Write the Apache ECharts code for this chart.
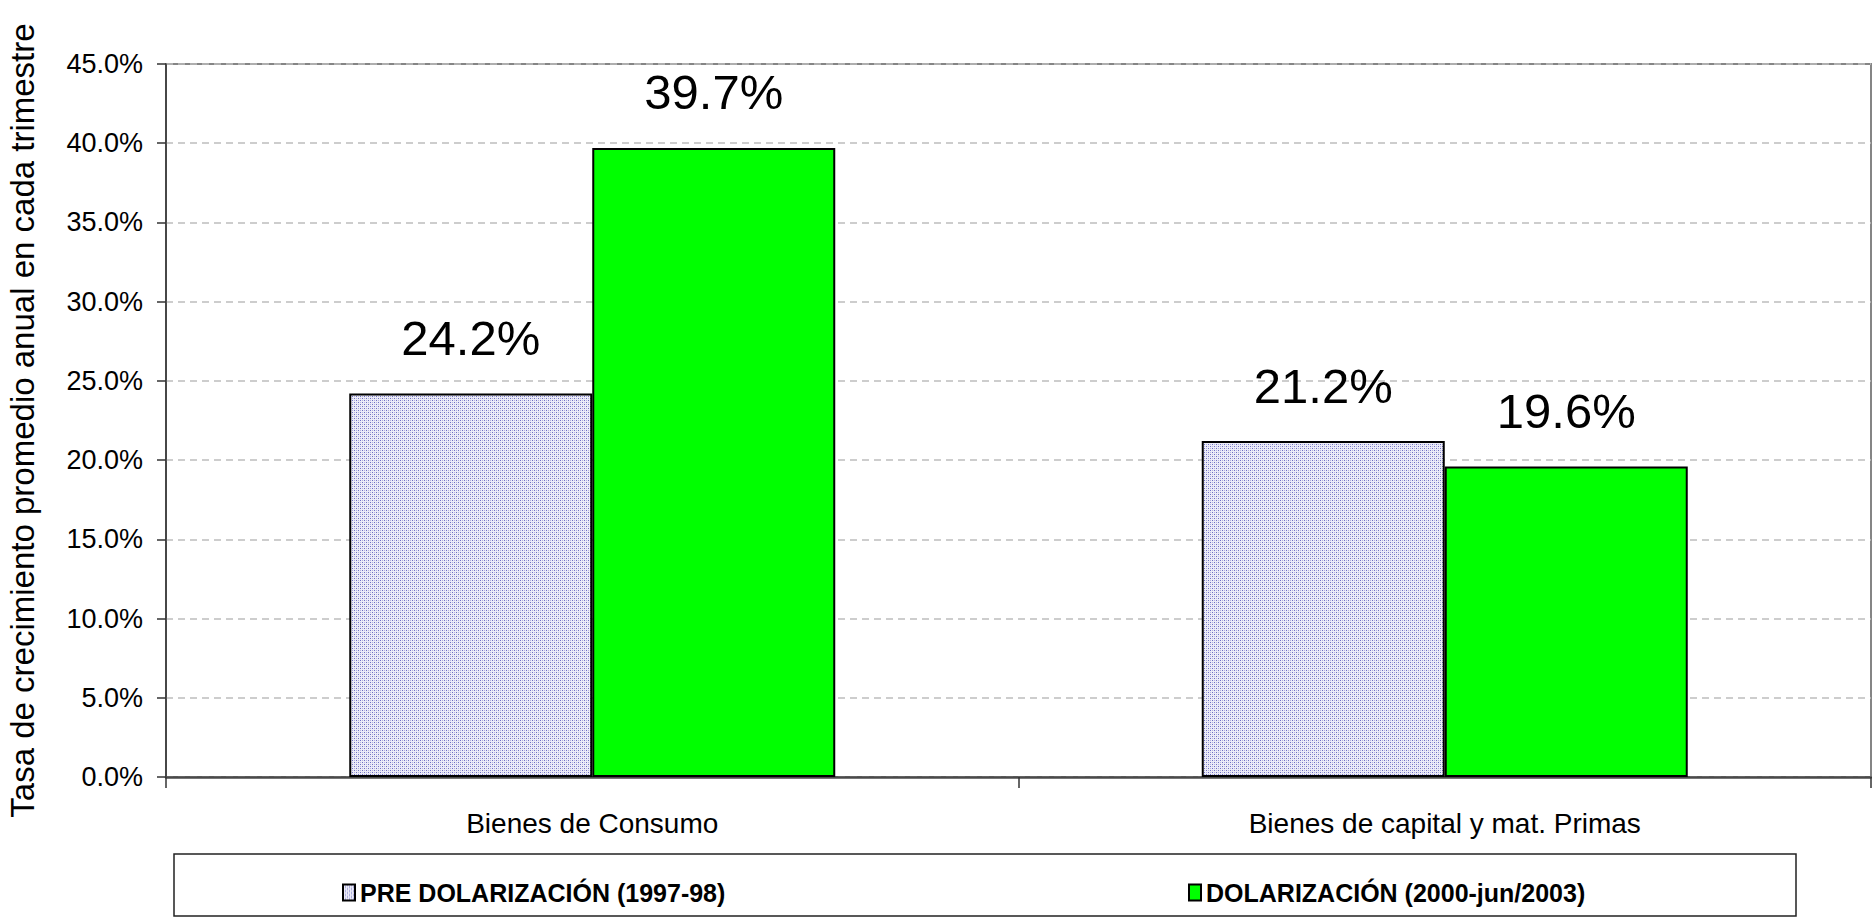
<!DOCTYPE html>
<html>
<head>
<meta charset="utf-8">
<script src="https://cdn.jsdelivr.net/npm/echarts@6/dist/echarts.min.js"></script>
<style>
html,body{margin:0;padding:0;background:#fff;}
#chart{width:1872px;height:917px;}
</style>
</head>
<body>
<div id="chart"></div>
<script>
// ---- data ----
var categories = ['Bienes de Consumo', 'Bienes de capital y mat. Primas'];
var seriesNames = ['PRE DOLARIZACIÓN (1997-98)', 'DOLARIZACIÓN (2000-jun/2003)'];
var preDolarizacion = [0.242, 0.212];
var dolarizacion = [0.397, 0.196];
var yAxisTitle = 'Tasa de crecimiento promedio anual en cada trimestre';

// ---- dotted pattern for first series ----
function makePattern() {
  var c = document.createElement('canvas');
  c.width = 4; c.height = 4;
  var ctx = c.getContext('2d');
  ctx.fillStyle = '#ececf8';
  ctx.fillRect(0, 0, 4, 4);
  ctx.fillStyle = '#6f6fc4';
  ctx.fillRect(0, 0, 1, 1);
  ctx.fillRect(2, 2, 1, 1);
  ctx.fillStyle = '#b4b4dc';
  ctx.fillRect(2, 0, 1, 1);
  ctx.fillRect(0, 2, 1, 1);
  return c.toDataURL();
}
var dotted = { image: makePattern(), repeat: 'repeat' };

var font = "'Liberation Sans', Arial, sans-serif";

function pct(v) { return (v * 100).toFixed(1) + '%'; }

var legendText = { fontFamily: font, fontWeight: 'bold', fontSize: 25, color: '#000' };

var chart = echarts.init(document.getElementById('chart'), null, { renderer: 'svg' });
chart.setOption({
  animation: false,
  backgroundColor: '#ffffff',
  grid: {
    left: 166, right: 1, top: 64, bottom: 140,
    outerBoundsMode: 'none',
    containLabel: false,
    show: true, borderColor: '#858585', borderWidth: 2, backgroundColor: 'transparent'
  },
  graphic: [{
    type: 'rect',
    shape: { x: 174, y: 854, width: 1622, height: 62 },
    style: { fill: 'none', stroke: '#222', lineWidth: 1.5 },
    z: 0
  }],
  legend: [{
    data: [seriesNames[0]],
    left: 337, top: 875,
    itemWidth: 12, itemHeight: 16,
    icon: 'rect',
    textStyle: legendText
  }, {
    data: [seriesNames[1]],
    left: 1183, top: 875,
    itemWidth: 12, itemHeight: 16,
    icon: 'rect',
    textStyle: legendText
  }],
  xAxis: {
    type: 'category',
    data: categories,
    boundaryGap: true,
    axisLine: { show: true, lineStyle: { color: '#4a4a4a', width: 2.5 } },
    axisTick: { show: true, length: 11, lineStyle: { color: '#333', width: 1.5 } },
    axisLabel: { margin: 32, fontFamily: font, fontSize: 28, color: '#000' },
    splitLine: { show: false }
  },
  yAxis: {
    type: 'value',
    min: 0, max: 0.45, interval: 0.05,
    name: yAxisTitle,
    nameLocation: 'middle',
    nameGap: 127,
    nameTextStyle: { fontFamily: font, fontSize: 33, color: '#000' },
    axisLine: { show: true, lineStyle: { color: '#333', width: 1.5 } },
    axisTick: { show: true, length: 9, lineStyle: { color: '#333', width: 1.5 } },
    axisLabel: { margin: 23, fontFamily: font, fontSize: 27, color: '#000', formatter: pct },
    splitLine: { show: true, lineStyle: { type: [7, 5], color: '#bdbdbd', width: 1.5 } }
  },
  series: [{
    name: seriesNames[0],
    type: 'bar',
    data: preDolarizacion,
    barWidth: 243,
    barGap: '0%',
    itemStyle: { color: dotted, borderColor: '#000', borderWidth: 2 },
    label: { show: true, position: 'top', distance: 31, formatter: function (p) { return pct(p.value); },
             fontFamily: font, fontSize: 49, color: '#000' }
  }, {
    name: seriesNames[1],
    type: 'bar',
    data: dolarizacion,
    barWidth: 243,
    barGap: '0%',
    itemStyle: { color: '#00ff00', borderColor: '#000', borderWidth: 2 },
    label: { show: true, position: 'top', distance: 31, formatter: function (p) { return pct(p.value); },
             fontFamily: font, fontSize: 49, color: '#000' }
  }]
});
</script>
</body>
</html>
